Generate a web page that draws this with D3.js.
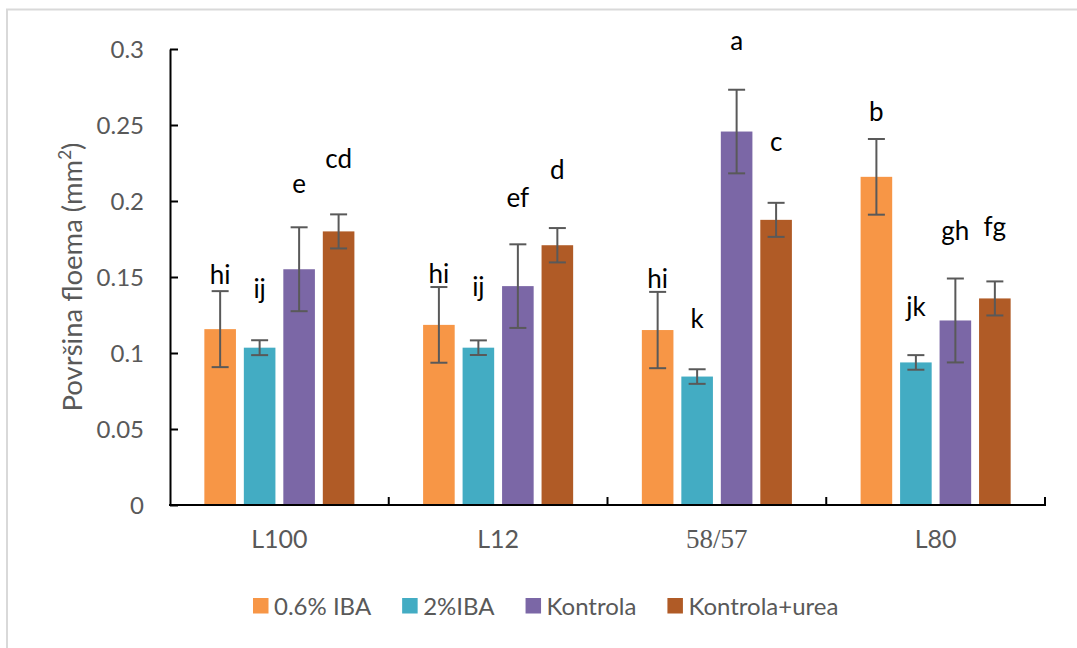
<!DOCTYPE html>
<html>
<head>
<meta charset="utf-8">
<script src="https://cdn.jsdelivr.net/npm/d3@7"></script>
<style>
  html, body { margin: 0; padding: 0; background: #fff; }
  svg { display: block; }
</style>
</head>
<body>
<svg id="chart" width="1077" height="648"></svg>
<script>
// Rootstock lines on the x axis
const categories = ["L100", "L12", "58/57", "L80"];
// Treatments (legend order)
const series = ["0.6% IBA", "2%IBA", "Kontrola", "Kontrola+urea"];
const seriesColors = ["#F79646", "#43ACC3", "#7B67A6", "#B05B26"];

// Mean phloem area (mm²) per treatment, in category order
const iba06 = [0.1157, 0.1185, 0.1151, 0.2159];
const iba2 = [0.1035, 0.1035, 0.0845, 0.0938];
const kontrola = [0.1551, 0.1440, 0.2457, 0.1214];
const kontrolaUrea = [0.1800, 0.1709, 0.1876, 0.1359];

// Standard errors
const iba06Err = [0.0250, 0.0249, 0.0251, 0.0249];
const iba2Err = [0.0049, 0.0048, 0.0048, 0.0048];
const kontrolaErr = [0.0276, 0.0275, 0.0275, 0.0276];
const kontrolaUreaErr = [0.0112, 0.0113, 0.0112, 0.0112];

// Significance letters and the level (mm²) at which each one sits
const iba06Letters = ["hi", "hi", "hi", "b"];
const iba2Letters = ["ij", "ij", "k", "jk"];
const kontrolaLetters = ["e", "ef", "a", "gh"];
const kontrolaUreaLetters = ["cd", "d", "c", "fg"];
const iba06LetterLevel = [0.1451, 0.1458, 0.1429, 0.2525];
const iba2LetterLevel = [0.1360, 0.1375, 0.1162, 0.1243];
const kontrolaLetterLevel = [0.2050, 0.1960, 0.2993, 0.1745];
const kontrolaUreaLetterLevel = [0.2215, 0.2145, 0.2328, 0.1772];

// Y axis ticks
const yTicks = [0, 0.05, 0.1, 0.15, 0.2, 0.25, 0.3];
const yTickLabels = ["0", "0.05", "0.1", "0.15", "0.2", "0.25", "0.3"];

const values = [iba06, iba2, kontrola, kontrolaUrea];
const errors = [iba06Err, iba2Err, kontrolaErr, kontrolaUreaErr];
const letters = [iba06Letters, iba2Letters, kontrolaLetters, kontrolaUreaLetters];
const letterLevels = [iba06LetterLevel, iba2LetterLevel, kontrolaLetterLevel, kontrolaUreaLetterLevel];

const rows = [];
categories.forEach((c, ci) => {
  series.forEach((s, si) => {
    rows.push({
      category: c, series: s, si,
      value: values[si][ci], err: errors[si][ci],
      letter: letters[si][ci], letterLevel: letterLevels[si][ci]
    });
  });
});

const svg = d3.select("#chart");
const sans = "Lato, 'Open Sans', sans-serif";
const gray = "#595959";

// Outer frame (top and left edges visible)
svg.append("path")
  .attr("d", "M7,648 L7,9.5 L1077,9.5")
  .attr("fill", "none").attr("stroke", "#d9d9d9").attr("stroke-width", 2);

const plot = { left: 170, right: 1045, top: 49, bottom: 505 };

const y = d3.scaleLinear().domain([0, 0.3]).range([plot.bottom, plot.top]);
const x0 = d3.scaleBand().domain(categories).range([plot.left, plot.right]).padding(0);
const x1 = d3.scaleBand().domain(series).range([0, x0.bandwidth()])
  .paddingInner(0.2).paddingOuter(0.87);
const color = d3.scaleOrdinal().domain(series).range(seriesColors);

// Bars
svg.append("g").selectAll("rect").data(rows).join("rect")
  .attr("x", d => x0(d.category) + x1(d.series))
  .attr("y", d => y(d.value))
  .attr("width", x1.bandwidth())
  .attr("height", d => y(0) - y(d.value))
  .attr("fill", d => color(d.series));

// Error bars
const eb = svg.append("g").attr("stroke", gray).attr("stroke-width", 2);
const capHalf = 8.5;
rows.forEach(d => {
  const cx = x0(d.category) + x1(d.series) + x1.bandwidth() / 2;
  const hi = y(d.value + d.err), lo = y(d.value - d.err);
  eb.append("line").attr("x1", cx).attr("x2", cx).attr("y1", hi).attr("y2", lo);
  eb.append("line").attr("x1", cx - capHalf).attr("x2", cx + capHalf).attr("y1", hi).attr("y2", hi);
  eb.append("line").attr("x1", cx - capHalf).attr("x2", cx + capHalf).attr("y1", lo).attr("y2", lo);
});

// Significance letters
svg.append("g").selectAll("text").data(rows).join("text")
  .attr("x", d => x0(d.category) + x1(d.series) + x1.bandwidth() / 2)
  .attr("y", d => y(d.letterLevel))
  .attr("text-anchor", "middle")
  .attr("font-family", sans).attr("font-size", 26).attr("fill", "#000")
  .text(d => d.letter);

// Y axis
const yAxis = svg.append("g")
  .attr("transform", `translate(${plot.left},0)`)
  .call(d3.axisRight(y).tickValues(yTicks).tickSize(8)
    .tickFormat((d, i) => yTickLabels[i]).tickSizeOuter(0));
yAxis.select(".domain").attr("stroke", "#000").attr("stroke-width", 2);
yAxis.selectAll(".tick line").attr("stroke", "#000").attr("stroke-width", 2);
yAxis.selectAll(".tick text")
  .attr("x", -26).attr("dy", "0.35em")
  .attr("text-anchor", "end")
  .attr("font-family", sans).attr("font-size", 24).attr("fill", gray);

// X axis: ticks at category boundaries, pointing up
const boundaries = categories.map(c => x0(c) + x0.bandwidth());
const xAxis = svg.append("g").attr("stroke", "#000").attr("stroke-width", 2);
xAxis.append("line")
  .attr("x1", plot.left - 1).attr("x2", plot.right + 1)
  .attr("y1", y(0)).attr("y2", y(0));
boundaries.forEach(bx => {
  xAxis.append("line").attr("x1", bx).attr("x2", bx)
    .attr("y1", y(0)).attr("y2", y(0) - 8);
});

// Category labels
svg.append("g").selectAll("text").data(categories).join("text")
  .attr("x", d => x0(d) + x0.bandwidth() / 2)
  .attr("y", 548)
  .attr("text-anchor", "middle")
  .attr("font-family", d => d === "58/57" ? "'Liberation Serif', 'Times New Roman', serif" : sans)
  .attr("font-size", d => d === "58/57" ? 27 : 25)
  .attr("fill", gray)
  .text(d => d);

// Y axis title
const title = svg.append("text")
  .attr("transform", `translate(82,${(plot.top + plot.bottom) / 2}) rotate(-90)`)
  .attr("text-anchor", "middle")
  .attr("font-family", sans).attr("font-size", 27.5).attr("fill", gray);
title.append("tspan").text("Površina floema (mm");
title.append("tspan").attr("font-size", 17).attr("dy", -11).text("2");
title.append("tspan").attr("dy", 11).text(")");

// Legend
const legend = svg.append("g");
let lx = 253;
series.forEach((s, i) => {
  const g = legend.append("g").attr("transform", `translate(${lx},0)`);
  g.append("rect").attr("x", 0).attr("y", 598).attr("width", 15.5).attr("height", 15.5)
    .attr("fill", seriesColors[i]);
  const t = g.append("text").attr("x", 21).attr("y", 614.5)
    .attr("font-family", sans).attr("font-size", 24).attr("fill", gray).text(s);
  lx += 21 + t.node().getComputedTextLength() + 31;
});
</script>
</body>
</html>
